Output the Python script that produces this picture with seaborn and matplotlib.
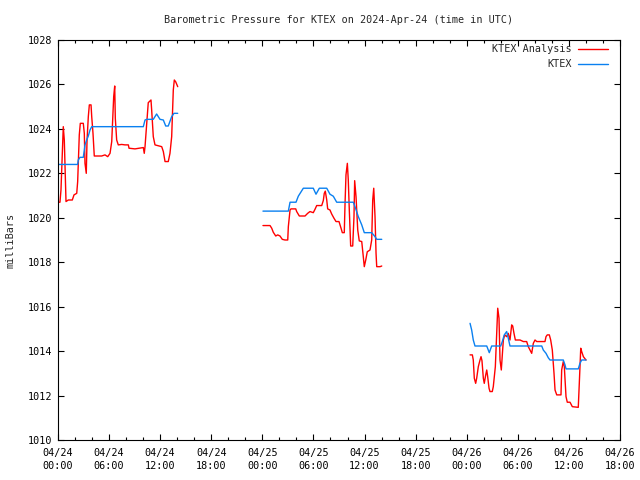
import numpy as np
import pandas as pd
import matplotlib
matplotlib.use("Agg")
import matplotlib.pyplot as plt
import seaborn as sns
from matplotlib.lines import Line2D
from matplotlib.ticker import MultipleLocator


# hours since 2024-04-24 00:00 UTC, pressure in mbar
red1_h = [0.0, 0.23, 0.35, 0.62, 0.74, 0.94, 1.21, 1.68, 1.88, 2.2, 2.31, 2.5, 2.62, 2.97, 3.09,
          3.17, 3.32, 3.41, 3.56, 3.68, 3.88, 3.96, 4.11, 4.26, 5.13, 5.52, 5.84, 6.11, 6.31, 6.42,
          6.54, 6.66, 6.73, 6.89, 7.08, 7.48, 7.87, 8.26, 8.34, 9.04, 10.02, 10.13, 10.22, 10.42,
          10.6, 10.92, 11.0, 11.19, 11.39, 12.18, 12.37, 12.57, 12.95, 13.15, 13.35, 13.54, 13.66,
          13.82, 14.06]
red1_p = [1020.7, 1020.7, 1021.25, 1024.1, 1023.5, 1020.73, 1020.8, 1020.8, 1021.03, 1021.1,
          1021.63, 1023.73, 1024.25, 1024.25, 1023.8, 1022.45, 1022.0, 1023.5, 1024.55, 1025.08,
          1025.08, 1024.55, 1023.8, 1022.78, 1022.78, 1022.83, 1022.75, 1022.9, 1023.43, 1024.4,
          1025.45, 1025.93, 1024.48, 1023.5, 1023.28, 1023.3, 1023.28, 1023.28, 1023.13, 1023.1,
          1023.16, 1022.9, 1023.2, 1024.25, 1025.18, 1025.3, 1024.85, 1023.65, 1023.28, 1023.2,
          1022.98, 1022.53, 1022.53, 1022.9, 1023.65, 1025.75, 1026.2, 1026.12, 1025.9]

red2_h = [24.07, 24.9, 25.1, 25.28, 25.57, 25.8, 26.07, 26.34, 26.66, 26.98, 27.05, 27.25, 27.36,
          27.92, 28.03, 28.34, 29.01, 29.32, 29.59, 29.98, 30.18, 30.38, 30.97, 31.16, 31.27,
          31.39, 31.56, 31.67, 31.94, 32.14, 32.41, 32.65, 33.0, 33.24, 33.39, 33.62, 33.71,
          33.82, 33.98, 34.09, 34.21, 34.37, 34.61, 34.76, 34.84, 35.0, 35.2, 35.38, 35.67,
          35.85, 35.97, 36.14, 36.32, 36.64, 36.84, 36.96, 37.08, 37.23, 37.35, 37.43, 37.82, 38.02]
red2_p = [1019.65, 1019.65, 1019.53, 1019.35, 1019.18, 1019.23, 1019.18, 1019.03, 1019.0, 1019.0,
          1019.6, 1020.35, 1020.4, 1020.4, 1020.28, 1020.08, 1020.08, 1020.2, 1020.28, 1020.23,
          1020.38, 1020.55, 1020.55, 1020.78, 1021.1, 1021.2, 1020.8, 1020.4, 1020.35, 1020.17,
          1019.98, 1019.83, 1019.83, 1019.53, 1019.33, 1019.33, 1020.65, 1021.93, 1022.45, 1021.7,
          1020.35, 1018.73, 1018.73, 1020.05, 1021.67, 1020.95, 1019.45, 1018.96, 1018.93, 1018.26,
          1017.8, 1018.1, 1018.47, 1018.55, 1019.0, 1020.8, 1021.33, 1020.05, 1018.4, 1017.8,
          1017.8, 1017.83]

red3_h = [48.39, 48.66, 48.77, 48.89, 49.05, 49.17, 49.36, 49.56, 49.68, 49.79, 49.95, 50.06,
          50.23, 50.35, 50.46, 50.62, 50.73, 51.0, 51.12, 51.24, 51.36, 51.52, 51.64, 51.79, 51.91,
          52.06, 52.18, 52.3, 52.46, 52.69, 52.88, 53.08, 53.28, 53.4, 53.55, 53.71, 54.26, 54.65,
          55.04, 55.23, 55.43, 55.63, 55.82, 56.02, 56.22, 57.19, 57.31, 57.46, 57.7, 57.86, 58.05,
          58.25, 58.37, 58.57, 59.07, 59.15, 59.34, 59.46, 59.66, 59.81, 60.13, 60.4, 61.1, 61.22,
          61.39, 61.5, 61.7, 61.9, 62.01]
red3_p = [1013.83, 1013.83, 1013.6, 1012.78, 1012.55, 1012.78, 1013.3, 1013.6, 1013.75, 1013.57,
          1012.78, 1012.55, 1012.93, 1013.15, 1012.85, 1012.33, 1012.18, 1012.18, 1012.4, 1012.85,
          1013.3, 1014.8, 1015.93, 1015.48, 1013.6, 1013.15, 1013.83, 1014.5, 1014.73, 1014.65,
          1014.8, 1014.5, 1015.18, 1015.13, 1014.8, 1014.5, 1014.5, 1014.43, 1014.43, 1014.2,
          1014.05, 1013.9, 1014.35, 1014.5, 1014.43, 1014.43, 1014.65, 1014.73, 1014.73, 1014.5,
          1014.05, 1013.0, 1012.25, 1012.03, 1012.03, 1013.15, 1013.53, 1013.3, 1011.95, 1011.7,
          1011.7, 1011.5, 1011.47, 1012.55, 1014.13, 1013.98, 1013.75, 1013.65, 1013.6]

blue1_h = [0.0, 2.31, 2.38, 2.58, 2.97, 3.17, 3.37, 3.56, 3.76, 3.96, 10.02, 10.22, 10.42, 11.19,
           11.58, 11.98, 12.37, 12.65, 12.95, 13.35, 13.62, 14.06]
blue1_p = [1022.4, 1022.4, 1022.6, 1022.72, 1022.72, 1023.28, 1023.5, 1023.68, 1023.95, 1024.1,
           1024.1, 1024.4, 1024.43, 1024.43, 1024.67, 1024.43, 1024.4, 1024.13, 1024.13, 1024.55,
           1024.7, 1024.7]

blue2_h = [24.07, 27.05, 27.25, 27.95, 28.22, 28.81, 29.98, 30.3, 30.69, 31.56, 31.94, 32.33,
           32.73, 34.68, 34.88, 35.27, 35.67, 35.97, 36.84, 37.23, 37.43, 38.02]
blue2_p = [1020.3, 1020.3, 1020.7, 1020.7, 1020.97, 1021.33, 1021.33, 1021.06, 1021.33, 1021.33,
           1021.06, 1020.97, 1020.7, 1020.7, 1020.5, 1020.05, 1019.68, 1019.33, 1019.33, 1019.15,
           1019.03, 1019.03]

blue3_h = [48.39, 48.58, 48.77, 48.97, 50.35, 50.65, 50.93, 51.99, 52.18, 52.41, 52.69, 52.88,
           53.08, 56.81, 56.99, 57.31, 57.58, 57.78, 59.34, 59.54, 59.66, 61.1, 61.3, 61.5, 62.01]
blue3_p = [1015.25, 1014.95, 1014.5, 1014.23, 1014.23, 1013.93, 1014.23, 1014.23, 1014.43,
           1014.73, 1014.88, 1014.58, 1014.23, 1014.23, 1014.05, 1013.9, 1013.7, 1013.6, 1013.6,
           1013.38, 1013.2, 1013.2, 1013.45, 1013.6, 1013.6]

tick_hours = list(range(0, 67, 6))
tick_labels = ["04/24\n00:00", "04/24\n06:00", "04/24\n12:00", "04/24\n18:00",
               "04/25\n00:00", "04/25\n06:00", "04/25\n12:00", "04/25\n18:00",
               "04/26\n00:00", "04/26\n06:00", "04/26\n12:00", "04/26\n18:00"]

series_names = ["KTEX Analysis", "KTEX"]
colors = {"KTEX Analysis": "#ff0000", "KTEX": "#0a80f0"}

# long-form table, one unit per continuous chunk so the gaps stay open
pieces = []
for name, segs in [
    ("KTEX Analysis", [(red1_h, red1_p), (red2_h, red2_p), (red3_h, red3_p)]),
    ("KTEX", [(blue1_h, blue1_p), (blue2_h, blue2_p), (blue3_h, blue3_p)]),
]:
    for i, (h, p) in enumerate(segs):
        pieces.append(pd.DataFrame({"hour": h, "mbar": p, "series": name, "seg": f"{name}-{i}"}))
df = pd.concat(pieces, ignore_index=True)

FS = 7.3

sns.set_style("ticks")
plt.rcParams["font.family"] = ["DejaVu Sans Mono"]
plt.rcParams["font.size"] = FS

fig = plt.figure(figsize=(6.4, 4.8), dpi=100)
ax = fig.add_axes([58 / 640, 40 / 480, 562 / 640, 400 / 480])

sns.lineplot(
    data=df, x="hour", y="mbar", hue="series", units="seg",
    estimator=None, sort=False, hue_order=series_names, palette=colors,
    linewidth=1.0, legend=False, ax=ax,
)

ax.set_xlim(0, 66)
ax.set_ylim(1010, 1028)
ax.set_xticks(tick_hours)
ax.set_xticklabels(tick_labels, fontsize=FS, linespacing=1.45)
ax.xaxis.set_minor_locator(MultipleLocator(2))
ax.yaxis.set_major_locator(MultipleLocator(2))
ax.tick_params(which="both", direction="in", top=True, right=True, colors="black", width=0.8)
ax.tick_params(which="major", length=4.5)
ax.tick_params(which="minor", length=2.2)
ax.tick_params(axis="x", pad=5.5)
ax.tick_params(axis="y", pad=4, labelsize=FS)
for s in ax.spines.values():
    s.set_color("black")
    s.set_linewidth(0.8)

ax.set_xlabel("")
ax.set_ylabel("milliBars", fontsize=FS)
ax.yaxis.set_label_coords(-0.076, 0.5)
ax.set_title("Barometric Pressure for KTEX on 2024-Apr-24 (time in UTC)", fontsize=FS, pad=12.5)

handles = [Line2D([], [], color=colors[n], linewidth=1.0) for n in series_names]
ax.legend(handles, series_names, loc="upper right", bbox_to_anchor=(0.995, 1.012), frameon=False,
          markerfirst=False, handlelength=3.0, handletextpad=0.6, labelspacing=0.5, fontsize=FS)

fig.savefig("out.png", dpi=100)
